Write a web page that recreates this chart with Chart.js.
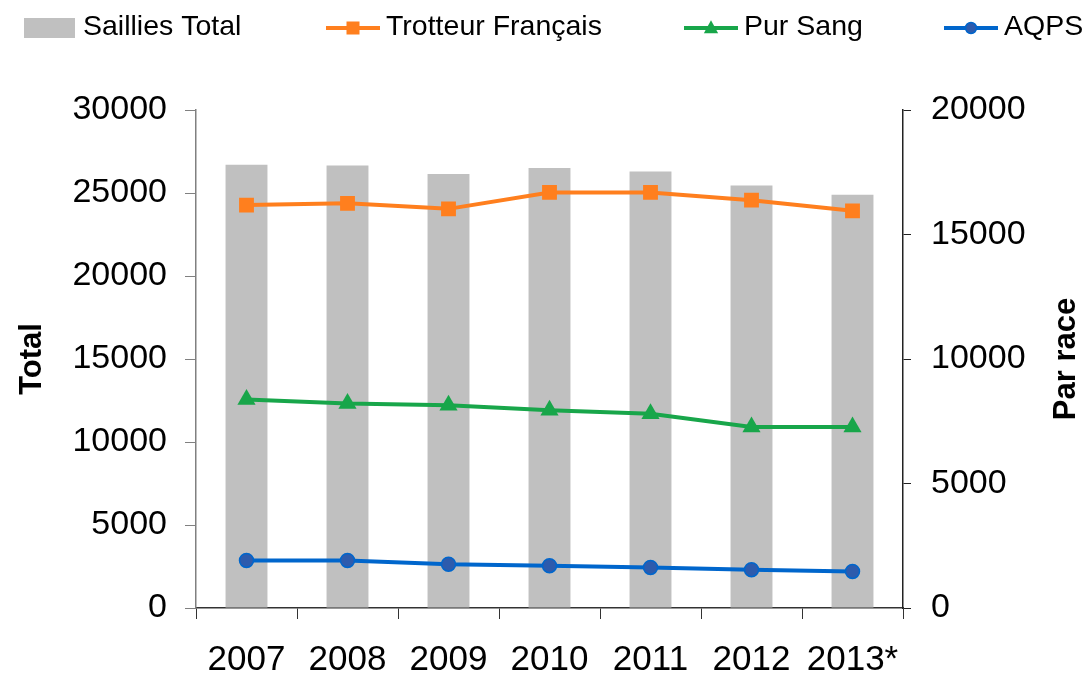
<!DOCTYPE html>
<html>
<head>
<meta charset="utf-8">
<script src="https://cdn.jsdelivr.net/npm/chart.js@4/dist/chart.umd.min.js"></script>
<style>
  html, body { margin: 0; padding: 0; background: #fff; }
  #wrap { width: 1083px; height: 674px; position: relative; }
</style>
</head>
<body>
<div id="wrap"><canvas id="chart"></canvas></div>
<script>
// values
const years = ['2007', '2008', '2009', '2010', '2011', '2012', '2013*'];
const sailliesTotal = [26700, 26650, 26150, 26500, 26300, 25450, 24900];
const trotteurFrancais = [16180, 16250, 16030, 16690, 16690, 16380, 15950];
const purSang = [8370, 8210, 8140, 7940, 7800, 7270, 7270];
const aqps = [1910, 1910, 1760, 1700, 1630, 1540, 1470];

const leftTicks = [0, 5000, 10000, 15000, 20000, 25000, 30000];
const rightTicks = [0, 5000, 10000, 15000, 20000];

const FONT = '"Liberation Sans", Arial, Helvetica, sans-serif';
const GREY = '#c0c0c0';
const ORANGE = '#ff7f1e';
const GREEN = '#18a64a';
const BLUE = '#0066cc';
const BLUE_DOT = '#2d5bad';

const legendItems = [
  { label: 'Saillies Total', kind: 'box', color: GREY, x: 24 },
  { label: 'Trotteur Français', kind: 'rect', color: ORANGE, x: 326 },
  { label: 'Pur Sang', kind: 'triangle', color: GREEN, x: 684 },
  { label: 'AQPS', kind: 'circle', color: BLUE, fill: BLUE_DOT, x: 944 }
];

function marker(ctx, kind, x, y, size, color, fill) {
  ctx.save();
  ctx.fillStyle = fill || color;
  ctx.strokeStyle = color;
  if (kind === 'rect') {
    ctx.fillRect(x - size / 2, y - size / 2, size, size);
  } else if (kind === 'triangle') {
    ctx.beginPath();
    ctx.moveTo(x, y - size * 0.6);
    ctx.lineTo(x + size * 0.55, y + size * 0.4);
    ctx.lineTo(x - size * 0.55, y + size * 0.4);
    ctx.closePath();
    ctx.fill();
  } else if (kind === 'circle') {
    ctx.beginPath();
    ctx.arc(x, y, size / 2, 0, Math.PI * 2);
    ctx.fill();
    ctx.lineWidth = 1.5;
    ctx.stroke();
  }
  ctx.restore();
}

// legend on top and the two axis titles
const extras = {
  id: 'extras',
  afterDraw(chart) {
    const ctx = chart.ctx;
    const area = chart.chartArea;
    ctx.save();
    ctx.font = '28.5px ' + FONT;
    ctx.textBaseline = 'middle';
    const y = 28;
    legendItems.forEach(item => {
      let x = item.x;
      if (item.kind === 'box') {
        ctx.fillStyle = item.color;
        ctx.fillRect(x, y - 10, 51, 20);
        x += 59;
      } else {
        ctx.strokeStyle = item.color;
        ctx.lineWidth = 4;
        ctx.beginPath();
        ctx.moveTo(x, y);
        ctx.lineTo(x + 54, y);
        ctx.stroke();
        marker(ctx, item.kind, x + 27, y, item.kind === 'circle' ? 11 : 13, item.color, item.fill);
        x += 60;
      }
      ctx.fillStyle = '#000';
      ctx.textAlign = 'left';
      ctx.fillText(item.label, x, y - 1);
    });

    const midY = (area.top + area.bottom) / 2;
    ctx.font = 'bold 31px ' + FONT;
    ctx.textAlign = 'center';
    ctx.translate(32, midY);
    ctx.rotate(-Math.PI / 2);
    ctx.fillText('Total', 0, 0);
    ctx.restore();

    ctx.save();
    ctx.font = 'bold 31px ' + FONT;
    ctx.textAlign = 'center';
    ctx.textBaseline = 'middle';
    ctx.fillStyle = '#000';
    ctx.translate(1066, midY);
    ctx.rotate(-Math.PI / 2);
    ctx.fillText('Par race', 0, 0);
    ctx.restore();
  }
};

const ctx = document.getElementById('chart').getContext('2d');
const chart = new Chart(ctx, {
  data: {
    labels: years,
    datasets: [
      {
        type: 'line',
        label: 'Trotteur Français',
        data: trotteurFrancais,
        yAxisID: 'y1',
        borderColor: ORANGE,
        backgroundColor: ORANGE,
        borderWidth: 4,
        pointStyle: 'rect',
        pointRadius: 10.5,
        pointBorderWidth: 0,
        tension: 0,
        order: 1
      },
      {
        type: 'line',
        label: 'Pur Sang',
        data: purSang,
        yAxisID: 'y1',
        borderColor: GREEN,
        backgroundColor: GREEN,
        borderWidth: 4,
        pointStyle: 'triangle',
        pointRadius: 10.5,
        pointBorderWidth: 0,
        tension: 0,
        order: 2
      },
      {
        type: 'line',
        label: 'AQPS',
        data: aqps,
        yAxisID: 'y1',
        borderColor: BLUE,
        backgroundColor: BLUE_DOT,
        borderWidth: 4,
        pointStyle: 'circle',
        pointRadius: 7,
        pointBorderWidth: 1.5,
        pointBorderColor: BLUE,
        tension: 0,
        order: 3
      },
      {
        type: 'bar',
        label: 'Saillies Total',
        data: sailliesTotal,
        yAxisID: 'y',
        backgroundColor: GREY,
        borderWidth: 0,
        barPercentage: 0.415,
        categoryPercentage: 1,
        order: 10
      }
    ]
  },
  options: {
    responsive: true,
    maintainAspectRatio: false,
    animation: false,
    layout: { padding: { top: 110, left: 0, right: 0, bottom: 0 } },
    plugins: {
      legend: { display: false },
      tooltip: { enabled: false }
    },
    scales: {
      x: {
        offset: true,
        grid: {
          offset: true,
          drawOnChartArea: false,
          drawTicks: true,
          tickLength: 11,
          tickColor: '#333'
        },
        border: { color: '#333', width: 1.5 },
        ticks: {
          color: '#000',
          font: { family: FONT, size: 35 },
          padding: 20,
          maxRotation: 0
        },
        afterFit(scale) { scale.height = 66; }
      },
      y: {
        position: 'left',
        min: 0,
        max: 30000,
        afterBuildTicks(scale) { scale.ticks = leftTicks.map(v => ({ value: v })); },
        grid: {
          drawOnChartArea: false,
          drawTicks: true,
          tickLength: 11,
          tickColor: '#808080'
        },
        border: { color: '#808080', width: 1.5 },
        ticks: {
          color: '#000',
          font: { family: FONT, size: 34 },
          padding: 18,
          callback: v => String(v)
        },
        afterFit(scale) { scale.width = 196; }
      },
      y1: {
        position: 'right',
        min: 0,
        max: 20000,
        afterBuildTicks(scale) { scale.ticks = rightTicks.map(v => ({ value: v })); },
        grid: {
          drawOnChartArea: false,
          drawTicks: true,
          tickLength: 8,
          tickColor: '#222'
        },
        border: { color: '#222', width: 1.5 },
        ticks: {
          color: '#000',
          font: { family: FONT, size: 34 },
          padding: 20,
          callback: v => String(v)
        },
        afterFit(scale) { scale.width = 180; }
      }
    }
  },
  plugins: [extras]
});
</script>
</body>
</html>
